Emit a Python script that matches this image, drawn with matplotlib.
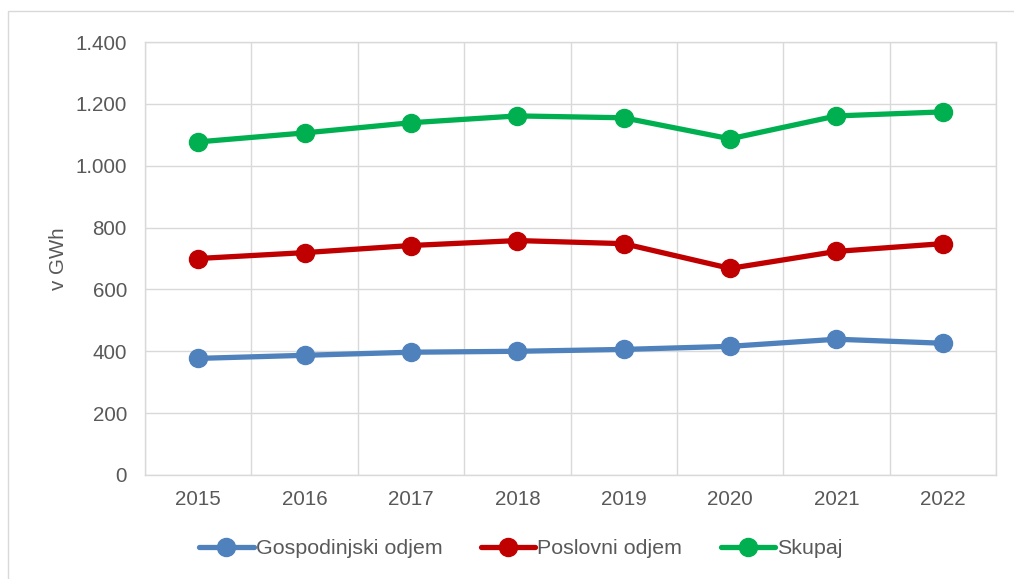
import matplotlib.pyplot as plt
import matplotlib.patches as patches
from matplotlib.ticker import FuncFormatter, MultipleLocator
import numpy as np

years = ['2015', '2016', '2017', '2018', '2019', '2020', '2021', '2022']
gospodinjski = [377, 387, 397, 400, 406, 416, 439, 426]
poslovni = [700, 719, 742, 758, 748, 668, 723, 748]
skupaj = [1077, 1106, 1139, 1161, 1155, 1087, 1161, 1174]

series_names = ['Gospodinjski odjem', 'Poslovni odjem', 'Skupaj']
series_colors = ['#4f81bd', '#c00000', '#00b050']

plt.rcParams['font.family'] = ['Liberation Sans', 'DejaVu Sans']
FS = 14.8

W, H = 1014, 579
fig = plt.figure(figsize=(W / 100, H / 100), dpi=100)
ax = fig.add_axes([145 / W, 1 - 475 / H, (996 - 145) / W, (475 - 42) / H])

# outer chart frame (right and bottom edges are cropped in the original)
frame = patches.Rectangle((8 / W, -0.05), 1.2, 1 - 11 / H + 0.05, transform=fig.transFigure,
                          fill=False, edgecolor='#d9d9d9', linewidth=1.0)
fig.patches.append(frame)

x = np.arange(len(years))
for vals, name, col in zip([gospodinjski, poslovni, skupaj], series_names, series_colors):
    ax.plot(x, vals, color=col, linewidth=3.8, marker='o', markersize=13,
            markerfacecolor=col, markeredgecolor=col, label=name, solid_capstyle='round')

ax.set_xlim(-0.5, len(years) - 0.5)
ax.set_ylim(0, 1400)
ax.set_xticks(x)
ax.set_xticklabels(years)
ax.set_xticks(np.arange(-0.5, len(years), 1.0), minor=True)
ax.yaxis.set_major_locator(MultipleLocator(200))
ax.yaxis.set_major_formatter(FuncFormatter(lambda v, p: f'{int(v):,}'.replace(',', '.')))

ax.grid(True, which='minor', axis='x', color='#d9d9d9', linewidth=1.0)
ax.grid(True, which='major', axis='y', color='#d9d9d9', linewidth=1.0)
ax.set_axisbelow(True)
for s in ax.spines.values():
    s.set_color('#d9d9d9')
    s.set_linewidth(1.0)

ax.tick_params(axis='both', which='both', length=0, colors='#595959', labelsize=FS)
ax.tick_params(axis='y', pad=13)
ax.tick_params(axis='x', pad=11)

ax.set_ylabel('v GWh', color='#595959', fontsize=FS, labelpad=5)

fig.legend(loc='center', bbox_to_anchor=(521 / W, 1 - 549 / H), ncol=3, frameon=False,
           fontsize=15.4, handlelength=2.55, handletextpad=0.1, columnspacing=1.8,
           labelcolor='#595959')

fig.savefig('out.png', dpi=100)
